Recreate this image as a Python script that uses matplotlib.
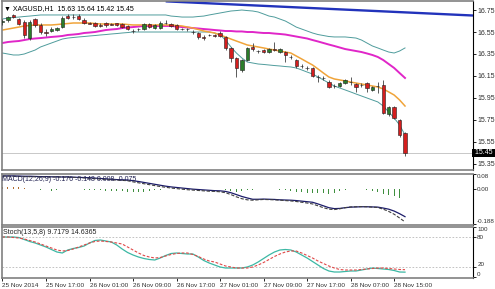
import numpy as np
import matplotlib
matplotlib.use("Agg")
import matplotlib.pyplot as plt
import matplotlib.transforms as mtransforms

plt.rcParams['font.family'] = ['Liberation Sans', 'DejaVu Sans']

# XAGUSD H1 candles, 25 Nov 2014 09:00 .. 28 Nov 2014 17:00
opens = [16.64, 16.66, 16.705, 16.67, 16.64, 16.50, 16.67, 16.61, 16.55, 16.56,
         16.57, 16.60, 16.70, 16.69, 16.70, 16.66, 16.63, 16.63, 16.61, 16.63,
         16.62, 16.628, 16.62, 16.605, 16.56, 16.58, 16.58, 16.62, 16.59, 16.59,
         16.636, 16.62, 16.61, 16.58, 16.58, 16.55, 16.54, 16.505, 16.52, 16.52,
         16.54, 16.505, 16.405, 16.31, 16.205, 16.295, 16.41, 16.377, 16.386, 16.368,
         16.395, 16.368, 16.368, 16.323, 16.295, 16.24, 16.223, 16.223, 16.14, 16.132,
         16.095, 16.06, 16.06, 16.086, 16.095, 16.077, 16.068, 16.086, 16.023, 16.06,
         16.068, 15.805, 15.868, 15.75, 15.63]
highs = [16.67, 16.70, 16.71, 16.68, 16.66, 16.66, 16.68, 16.63, 16.58, 16.60,
         16.60, 16.70, 16.71, 16.71, 16.71, 16.68, 16.64, 16.64, 16.63, 16.64,
         16.63, 16.632, 16.63, 16.61, 16.58, 16.59, 16.63, 16.63, 16.62, 16.65,
         16.66, 16.63, 16.62, 16.59, 16.59, 16.57, 16.55, 16.52, 16.53, 16.53,
         16.56, 16.51, 16.41, 16.32, 16.30, 16.41, 16.45, 16.386, 16.395, 16.405,
         16.46, 16.405, 16.377, 16.34, 16.305, 16.26, 16.24, 16.232, 16.16, 16.15,
         16.114, 16.077, 16.095, 16.123, 16.14, 16.086, 16.086, 16.095, 16.06, 16.095,
         16.114, 15.877, 15.877, 15.759, 15.64]
lows = [16.61, 16.64, 16.68, 16.61, 16.50, 16.48, 16.60, 16.53, 16.51, 16.55,
        16.56, 16.59, 16.67, 16.67, 16.66, 16.62, 16.62, 16.60, 16.60, 16.60,
        16.61, 16.605, 16.59, 16.57, 16.54, 16.56, 16.57, 16.59, 16.58, 16.58,
        16.62, 16.60, 16.57, 16.57, 16.56, 16.53, 16.49, 16.48, 16.51, 16.505,
        16.505, 16.39, 16.28, 16.14, 16.19, 16.29, 16.38, 16.36, 16.36, 16.36,
        16.377, 16.359, 16.277, 16.305, 16.223, 16.223, 16.205, 16.14, 16.095, 16.114,
        16.04, 16.04, 16.05, 16.077, 16.068, 16.005, 16.05, 16.005, 16.014, 15.995,
        15.805, 15.786, 15.759, 15.595, 15.42]
closes = [16.65, 16.69, 16.685, 16.62, 16.52, 16.64, 16.61, 16.55, 16.545, 16.58,
          16.582, 16.68, 16.68, 16.685, 16.67, 16.63, 16.627, 16.605, 16.608, 16.61,
          16.618, 16.61, 16.595, 16.58, 16.558, 16.575, 16.62, 16.60, 16.61, 16.63,
          16.634, 16.605, 16.58, 16.578, 16.575, 16.548, 16.505, 16.495, 16.522, 16.518,
          16.515, 16.405, 16.31, 16.22, 16.295, 16.405, 16.395, 16.375, 16.368, 16.395,
          16.39, 16.395, 16.341, 16.32, 16.24, 16.238, 16.22, 16.15, 16.138, 16.128,
          16.05, 16.058, 16.086, 16.114, 16.093, 16.05, 16.066, 16.04, 16.05, 16.058,
          15.814, 15.868, 15.768, 15.614, 15.45]

ema_fast = [16.568, 16.577, 16.586, 16.595, 16.605, 16.609, 16.614, 16.614, 16.614, 16.614,
            16.618, 16.623, 16.627, 16.632, 16.632, 16.632, 16.632, 16.627, 16.623, 16.623,
            16.623, 16.623, 16.623, 16.618, 16.614, 16.614, 16.614, 16.614, 16.614, 16.614,
            16.614, 16.614, 16.609, 16.605, 16.595, 16.586, 16.573, 16.559, 16.55, 16.541,
            16.523, 16.505, 16.486, 16.468, 16.45, 16.432, 16.423, 16.414, 16.405, 16.395,
            16.386, 16.377, 16.368, 16.359, 16.332, 16.305, 16.277, 16.25, 16.214, 16.177,
            16.141, 16.123, 16.114, 16.105, 16.095, 16.086, 16.077, 16.068, 16.059, 16.05,
            16.032, 16.005, 15.977, 15.932, 15.877]
sma_slow = [16.45, 16.459, 16.464, 16.468, 16.477, 16.486, 16.491, 16.495, 16.50, 16.505,
            16.509, 16.514, 16.523, 16.527, 16.532, 16.541, 16.545, 16.55, 16.559, 16.568,
            16.573, 16.577, 16.586, 16.591, 16.595, 16.60, 16.605, 16.605, 16.605, 16.605,
            16.605, 16.605, 16.60, 16.595, 16.591, 16.586, 16.582, 16.577, 16.573, 16.568,
            16.564, 16.559, 16.559, 16.555, 16.555, 16.55, 16.55, 16.545, 16.541, 16.541,
            16.536, 16.532, 16.527, 16.518, 16.509, 16.50, 16.491, 16.477, 16.464, 16.45,
            16.436, 16.423, 16.409, 16.395, 16.386, 16.377, 16.368, 16.355, 16.341, 16.323,
            16.295, 16.259, 16.223, 16.177, 16.132]
bb_upper = [16.668, 16.677, 16.682, 16.686, 16.691, 16.695, 16.70, 16.705, 16.705, 16.705,
            16.705, 16.705, 16.705, 16.705, 16.705, 16.705, 16.705, 16.705, 16.705, 16.705,
            16.705, 16.705, 16.705, 16.705, 16.705, 16.705, 16.705, 16.705, 16.705, 16.705,
            16.705, 16.695, 16.691, 16.686, 16.686, 16.686, 16.691, 16.695, 16.705, 16.714,
            16.723, 16.732, 16.741, 16.745, 16.75, 16.745, 16.741, 16.732, 16.714, 16.695,
            16.686, 16.668, 16.65, 16.623, 16.595, 16.577, 16.559, 16.541, 16.527, 16.518,
            16.509, 16.505, 16.505, 16.505, 16.50, 16.495, 16.477, 16.45, 16.423, 16.405,
            16.386, 16.368, 16.359, 16.377, 16.405]
bb_lower = [16.359, 16.35, 16.341, 16.341, 16.35, 16.368, 16.386, 16.414, 16.432, 16.45,
            16.468, 16.486, 16.495, 16.50, 16.505, 16.509, 16.514, 16.518, 16.523, 16.527,
            16.532, 16.536, 16.541, 16.545, 16.55, 16.55, 16.55, 16.55, 16.55, 16.55,
            16.55, 16.55, 16.55, 16.55, 16.55, 16.55, 16.55, 16.55, 16.55, 16.541,
            16.523, 16.477, 16.414, 16.359, 16.314, 16.277, 16.268, 16.259, 16.255, 16.25,
            16.245, 16.241, 16.236, 16.232, 16.223, 16.205, 16.186, 16.168, 16.141, 16.114,
            16.086, 16.059, 16.041, 16.023, 16.005, 15.986, 15.968, 15.95, 15.932, 15.914,
            15.877, 15.823, 15.768, 15.705, 15.614]

# hand drawn trend line (bar index, price)
trend_bars = [30, 86.5]
trend_prices = [16.829, 16.70]

macd_signal = [0.070, 0.070, 0.070, 0.069, 0.068, 0.068, 0.067, 0.066, 0.066, 0.065,
               0.065, 0.064, 0.064, 0.063, 0.062, 0.061, 0.060, 0.058, 0.056, 0.054,
               0.052, 0.050, 0.049, 0.048, 0.044, 0.040, 0.035, 0.030, 0.025, 0.020,
               0.015, 0.011, 0.008, 0.005, 0.002, -0.001, -0.003, -0.005, -0.007, -0.009,
               -0.010, -0.013, -0.020, -0.030, -0.040, -0.048, -0.055, -0.055, -0.054, -0.055,
               -0.056, -0.058, -0.059, -0.060, -0.062, -0.065, -0.068, -0.071, -0.080, -0.090,
               -0.100, -0.105, -0.104, -0.100, -0.097, -0.096, -0.095, -0.095, -0.096, -0.097,
               -0.102, -0.108, -0.118, -0.132, -0.148]
macd_main = [0.069, 0.069, 0.068, 0.067, 0.066, 0.066, 0.065, 0.064, 0.064, 0.064,
             0.064, 0.064, 0.063, 0.062, 0.061, 0.059, 0.057, 0.055, 0.053, 0.051,
             0.049, 0.047, 0.046, 0.044, 0.038, 0.033, 0.028, 0.023, 0.018, 0.013,
             0.009, 0.005, 0.002, -0.001, -0.004, -0.006, -0.008, -0.010, -0.012, -0.013,
             -0.015, -0.020, -0.030, -0.042, -0.052, -0.058, -0.060, -0.058, -0.056, -0.057,
             -0.058, -0.060, -0.062, -0.064, -0.067, -0.071, -0.075, -0.080, -0.090, -0.100,
             -0.108, -0.110, -0.106, -0.100, -0.096, -0.095, -0.094, -0.095, -0.097, -0.099,
             -0.108, -0.120, -0.135, -0.155, -0.176]
macd_hist = [0.012, 0.012, 0.010, 0.008, 0.004, 0.002, 0.0, -0.008, -0.010, -0.010,
             -0.008, -0.002, -0.001, -0.001, -0.002, -0.003, -0.003, -0.006, -0.008, -0.010,
             -0.012, -0.012, -0.012, -0.014, -0.015, -0.016, -0.014, -0.010, -0.008, -0.003,
             -0.002, -0.002, -0.002, -0.002, -0.002, -0.002, -0.003, -0.002, -0.002, -0.002,
             -0.002, -0.006, -0.010, -0.015, -0.012, -0.008, -0.005, -0.002, -0.002, -0.002,
             -0.002, -0.003, -0.006, -0.010, -0.014, -0.018, -0.020, -0.022, -0.022, -0.024,
             -0.025, -0.020, -0.012, -0.004, -0.002, -0.002, -0.002, -0.005, -0.010, -0.018,
             -0.025, -0.030, -0.040, -0.050, -0.060]

stoch_main = [80, 80, 80, 79, 75, 71, 68, 64, 60, 55,
              50, 48, 54, 57, 59, 62, 68, 73, 74, 72,
              70, 64, 56, 49, 44, 40, 37, 35, 34, 38,
              43, 47, 48, 47, 46, 46, 40, 33, 28, 24,
              20, 18, 18, 18, 18, 20, 24, 30, 37, 44,
              50, 54, 55, 54, 50, 44, 38, 31, 24, 17,
              12, 10, 10, 11, 12, 12, 14, 16, 18, 17,
              16, 15, 13, 10, 9.7179]
stoch_signal = [80, 80, 79, 78, 76, 73, 70, 66, 62, 58,
                54, 52, 53, 56, 60, 64, 68, 71, 72, 71,
                70, 68, 66, 60, 54, 48, 43, 40, 38, 39,
                42, 45, 47, 48, 48, 45, 41, 36, 32, 30,
                26, 22, 20, 18, 18, 18, 20, 24, 29, 35,
                41, 46, 50, 52, 52, 48, 43, 38, 32, 27,
                22, 18, 15, 14, 14, 14, 15, 16, 17, 18,
                18, 17, 16, 15, 14.6365]

price_ticks = [16.75, 16.55, 16.35, 16.15, 15.95, 15.75, 15.55, 15.35]
time_ticks = [0, 8, 16, 24, 32, 40, 48, 56, 64, 72]
time_labels = ['25 Nov 2014', '25 Nov 17:00', '26 Nov 01:00', '26 Nov 09:00',
               '26 Nov 17:00', '27 Nov 01:00', '27 Nov 09:00', '27 Nov 17:00',
               '28 Nov 07:00', '28 Nov 15:00']

W, H = 495, 289
fig = plt.figure(figsize=(W / 100, H / 100), dpi=100)


def box(x0, y0, x1, y1):
    return [x0 / W, 1 - y1 / H, (x1 - x0) / W, (y1 - y0) / H]


ax = fig.add_axes(box(2, 1, 473, 170))
axm = fig.add_axes(box(2, 174, 473, 225), sharex=ax)
axs = fig.add_axes(box(2, 227, 473, 278), sharex=ax)

txt = '#303030'
for a in (ax, axm, axs):
    for s in ('left', 'top', 'bottom'):
        a.spines[s].set_color('#808080')
        a.spines[s].set_linewidth(1.2)
    a.spines['right'].set_color('black')
    a.spines['right'].set_linewidth(0.8)
    a.yaxis.tick_right()
    a.tick_params(axis='y', labelsize=5, length=2, width=0.6, pad=1.5, labelcolor=txt)
    a.tick_params(axis='x', bottom=False, labelbottom=False)

# --- price panel
o = np.array(opens); h = np.array(highs); l = np.array(lows); c = np.array(closes)
idx = np.arange(len(o))
col = np.where(c >= o, '#2a7d2a', '#d41e1e')
ax.axhline(closes[-1], color='#c8c8c8', lw=0.7, zorder=0)
ax.plot(trend_bars, trend_prices, color='#2233bb', lw=1.7, solid_capstyle='butt')
ax.plot(idx, bb_upper, color='#4f9c9c', lw=0.7)
ax.plot(idx, bb_lower, color='#4f9c9c', lw=0.7)
ax.plot(idx, sma_slow, color='#e026c8', lw=1.4)
ax.plot(idx, ema_fast, color='#f0a43a', lw=1.1)
ax.vlines(idx, l, h, color='#404040', lw=0.6, zorder=3)
ax.bar(idx, np.abs(c - o), bottom=np.minimum(o, c), width=0.62, color=col,
       edgecolor='#202020', linewidth=0.4, zorder=4)
ax.set_xlim(-0.09, 86.5)
ax.set_ylim(15.295, 16.832)
ax.set_yticks(price_ticks)
ax.set_yticklabels([f'{p:.2f}' for p in price_ticks])
ax.text(1.0, closes[-1], f' {closes[-1]:.2f} ', transform=mtransforms.blended_transform_factory(ax.transAxes, ax.transData),
        ha='left', va='center', fontsize=5, color='white',
        bbox=dict(facecolor='black', edgecolor='none', pad=0.6))
ax.text(0.004, 0.975, '\u25BC XAGUSD,H1  15.63 15.64 15.42 15.45', transform=ax.transAxes,
        ha='left', va='top', fontsize=5, color='black')

# --- MACD panel
axm.bar(idx, macd_hist, width=0.18, color=np.where(np.array(macd_hist) > 0, '#b06a2a', '#3f8f3f'))
axm.plot(idx, macd_signal, color='#1c1c6a', lw=0.9)
axm.plot(idx, macd_main, color='#404040', lw=0.8, ls=(0, (3, 1.5)))
axm.set_ylim(-0.1925, 0.08)
axm.set_yticks([0.08, 0.0, -0.188])
axm.set_yticklabels(['0.08', '0.00', '-0.188'])
axm.tick_params(axis='y', labelsize=4.5, pad=1)
mlabs = axm.get_yticklabels()
mlabs[0].set_va('top')
mlabs[2].set_va('bottom')
axm.text(0.0, 0.96, 'MACD(12,26,9) -0.176 -0.148 0.008 -0.075', transform=axm.transAxes,
         ha='left', va='top', fontsize=5, color='#202050')

# --- Stochastic panel
for lv in (20, 80):
    axs.axhline(lv, color='#b8b8b8', lw=0.6, ls=(0, (2, 2)))
axs.plot(idx, stoch_main, color='#3cb8a4', lw=0.9)
axs.plot(idx, stoch_signal, color='#e04848', lw=0.8, ls=(0, (2.5, 1.5)))
axs.set_ylim(-2, 100)
axs.set_yticks([100, 80, 20, 0])
axs.set_yticklabels(['100', '80', '20', '0'])
axs.tick_params(axis='y', labelsize=4.5, pad=1)
slabs = axs.get_yticklabels()
slabs[0].set_va('top')
slabs[2].set_va('bottom')
slabs[3].set_va('bottom')
axs.text(0.002, 0.97, 'Stoch(13,5,8) 9.7179 14.6365', transform=axs.transAxes,
         ha='left', va='top', fontsize=5, color='#202020')
axs.tick_params(axis='x', bottom=True, labelbottom=True, labelsize=4.6, length=2.5,
                width=0.6, pad=1, labelcolor=txt)
axs.set_xticks(time_ticks)
axs.set_xticklabels(time_labels, ha='left')

fig.savefig('out.png', dpi=100, facecolor='white')
